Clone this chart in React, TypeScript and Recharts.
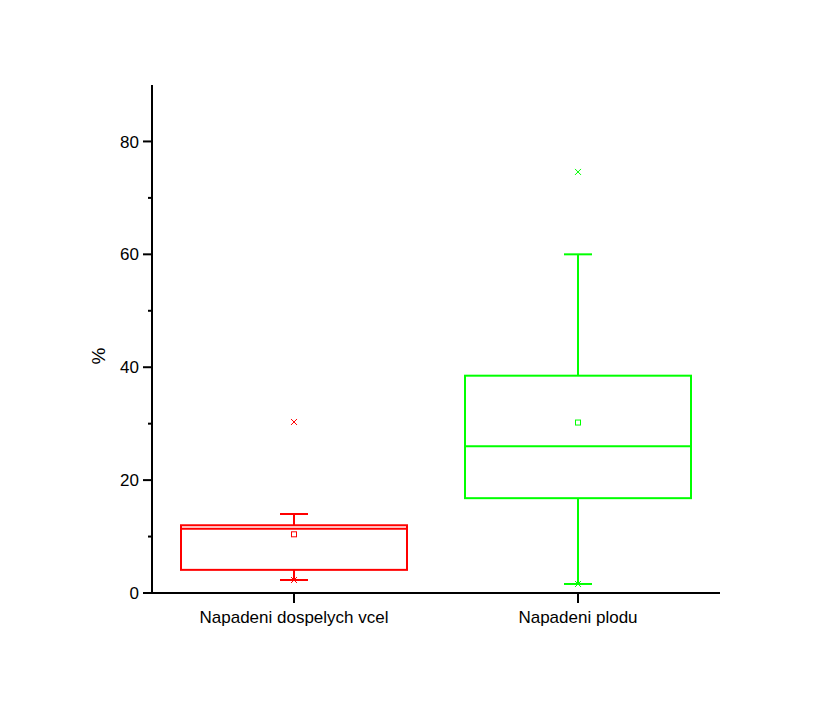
import React from 'react';
import { ComposedChart, Bar, Scatter, XAxis, YAxis } from 'recharts';

const categories = ['Napadeni dospelych vcel', 'Napadeni plodu'];
const whiskerLow = [2.3, 1.6];
const q1 = [4.1, 16.8];
const median = [11.4, 26.0];
const q3 = [12.0, 38.5];
const whiskerHigh = [14.0, 60.0];
const means = [10.4, 30.2];
const outliers = [30.3, 74.6];
const minMarks = [2.3, 1.6];
const colors = ['#ff0000', '#00ff00'];
const yTicks = [0, 10, 20, 30, 40, 50, 60, 70, 80];

const data = categories.map((name, i) => ({
  name,
  range: [whiskerLow[i], whiskerHigh[i]],
  low: whiskerLow[i],
  q1: q1[i],
  median: median[i],
  q3: q3[i],
  high: whiskerHigh[i],
  mean: means[i],
  outlier: outliers[i],
  minMark: minMarks[i],
  color: colors[i],
}));

const FONT = 'Liberation Sans, Arial, sans-serif';

const BoxShape = (props: any) => {
  const { x, y, width, height, payload } = props;
  const { low, high, color } = payload;
  const k = height / (high - low);
  const yOf = (v: number) => y + (high - v) * k;
  const cx = x + width / 2;
  const cap = 14;
  return (
    <g stroke={color} strokeWidth={2} fill="none">
      <line x1={cx} x2={cx} y1={yOf(high)} y2={yOf(payload.q3)} />
      <line x1={cx} x2={cx} y1={yOf(payload.q1)} y2={yOf(low)} />
      <line x1={cx - cap} x2={cx + cap} y1={yOf(high)} y2={yOf(high)} />
      <line x1={cx - cap} x2={cx + cap} y1={yOf(low)} y2={yOf(low)} />
      <rect x={x} y={yOf(payload.q3)} width={width} height={yOf(payload.q1) - yOf(payload.q3)} />
      <line x1={x} x2={x + width} y1={yOf(payload.median)} y2={yOf(payload.median)} />
    </g>
  );
};

const SquareShape = (props: any) => {
  const { cx, cy, payload } = props;
  return <rect x={cx - 2.5} y={cy - 2.5} width={5} height={5} fill="none" stroke={payload.color} strokeWidth={1} />;
};

const CrossShape = (props: any) => {
  const { cx, cy, payload } = props;
  const s = 3;
  return (
    <g stroke={payload.color} strokeWidth={1}>
      <line x1={cx - s} y1={cy - s} x2={cx + s} y2={cy + s} />
      <line x1={cx - s} y1={cy + s} x2={cx + s} y2={cy - s} />
    </g>
  );
};

const YTick = (props: any) => {
  const { x, y, payload } = props;
  const axisX = x + 4 + 9;
  const major = payload.value % 20 === 0;
  return (
    <g>
      <line x1={axisX - (major ? 9 : 4)} x2={axisX} y1={y} y2={y} stroke="#000" strokeWidth={2} />
      {major && (
        <text x={axisX - 13} y={y} dy="0.36em" textAnchor="end" fontSize={17} fontFamily={FONT} fill="#000">
          {payload.value}
        </text>
      )}
    </g>
  );
};

export default function App() {
  return (
    <div style={{ position: 'absolute', left: 0, top: 0, width: 824, height: 704, background: '#fff' }}>
      <ComposedChart width={824} height={704} data={data} margin={{ top: 85, right: 104, bottom: 71, left: 92 }}>
        <XAxis
          dataKey="name"
          axisLine={{ stroke: '#000', strokeWidth: 2 }}
          tickLine={{ stroke: '#000', strokeWidth: 2 }}
          tickSize={10}
          tickMargin={8}
          height={40}
          tick={{ fontSize: 17, fontFamily: FONT, fill: '#000' }}
        />
        <YAxis
          type="number"
          domain={[0, 90]}
          ticks={yTicks}
          width={60}
          allowDataOverflow
          axisLine={{ stroke: '#000', strokeWidth: 2 }}
          tickLine={false}
          tickSize={9}
          tickMargin={4}
          tick={<YTick />}
          label={{
            content: (p: any) => {
              const vb = p.viewBox;
              const lx = vb.x + 6;
              const ly = vb.y + vb.height / 2 + 17;
              return (
                <text x={lx} y={ly} transform={`rotate(-90 ${lx} ${ly})`} textAnchor="middle" dominantBaseline="central" fontSize={19} fontFamily={FONT} fill="#000">
                  %
                </text>
              );
            },
          }}
        />
        <Bar dataKey="range" barSize={226} shape={<BoxShape />} isAnimationActive={false} />
        <Scatter dataKey="mean" shape={<SquareShape />} isAnimationActive={false} />
        <Scatter dataKey="outlier" shape={<CrossShape />} isAnimationActive={false} />
        <Scatter dataKey="minMark" shape={<CrossShape />} isAnimationActive={false} />
      </ComposedChart>
    </div>
  );
}
